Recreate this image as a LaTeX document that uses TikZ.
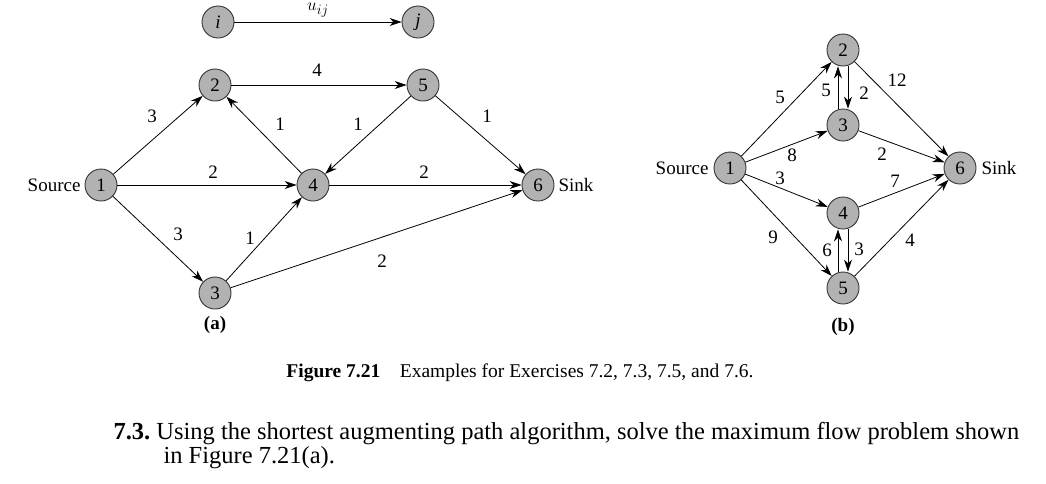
\documentclass[tikz,border=0pt]{standalone}
\usepackage{fontspec}
\setmainfont{Liberation Serif}
\usetikzlibrary{arrows.meta}
\begin{document}
\begin{tikzpicture}[x=1pt,y=-1pt,
  nd/.style={circle,draw=black!80,fill=black!30,line width=0.9pt,minimum size=32pt,inner sep=0pt,font=\fontsize{19}{19}\selectfont},
  ar/.style={-{Stealth[length=12pt,width=8pt]},line width=0.8pt},
  lb/.style={font=\fontsize{19}{19}\selectfont},
  tx/.style={font=\fontsize{19}{19}\selectfont}]
\useasboundingbox (0,0) rectangle (1046,483);
% (a)
\node[nd] (i) at (218,22) {\textit{i}};
\node[nd] (j) at (418,22) {\textit{j}};
\node[nd] (a2) at (215,85) {2};
\node[nd] (a5) at (423,85) {5};
\node[nd] (a1) at (101,185) {1};
\node[nd] (a4) at (313,185) {4};
\node[nd] (a6) at (538,185) {6};
\node[nd] (a3) at (215,293) {3};
\node[tx,anchor=east] (src) at (84,185) {Source};
\node[tx,anchor=west] (snk) at (555,185) {Sink};
\draw[ar] (i) -- (j) node[lb,midway,above=1pt] {$u_{ij}$};
\draw[ar] (a1) -- (a2);
\draw[ar] (a2) -- (a5);
\draw[ar] (a4) -- (a2);
\draw[ar] (a5) -- (a4);
\draw[ar] (a5) -- (a6);
\draw[ar] (a1) -- (a4);
\draw[ar] (a4) -- (a6);
\draw[ar] (a1) -- (a3);
\draw[ar] (a3) -- (a4);
\draw[ar] (a3) -- (a6);
\node[lb] (l1) at (152,116) {3};
\node[lb] (l2) at (317,70) {4};
\node[lb] (l3) at (280,124) {1};
\node[lb] (l4) at (358,124) {1};
\node[lb] (l5) at (487,116) {1};
\node[lb] (l6) at (213,172) {2};
\node[lb] (l7) at (424,172) {2};
\node[lb] (l8) at (178,234) {3};
\node[lb] (l9) at (250,238) {1};
\node[lb] (l10) at (382,261) {2};
\node[tx] (capa) at (215,325) {\textbf{(a)}};
% (b)
\node[nd] (b1) at (730,168) {1};
\node[nd] (b2) at (843,50) {2};
\node[nd] (b3) at (843,125) {3};
\node[nd] (b4) at (843,213) {4};
\node[nd] (b5) at (843,288) {5};
\node[nd] (b6) at (960,168) {6};
\node[tx,anchor=east] (srcb) at (712,168) {Source};
\node[tx,anchor=west] (snkb) at (978,168) {Sink};
\draw[ar] (b1) -- (b2);
\draw[ar] (b1) -- (b3);
\draw[ar] (b1) -- (b4);
\draw[ar] (b1) -- (b5);
\draw[ar] ([xshift=-5pt]b3.north) -- ([xshift=-5pt]b2.south);
\draw[ar] ([xshift=5pt]b2.south) -- ([xshift=5pt]b3.north);
\draw[ar] ([xshift=-5pt]b5.north) -- ([xshift=-5pt]b4.south);
\draw[ar] ([xshift=5pt]b4.south) -- ([xshift=5pt]b5.north);
\draw[ar] (b2) -- (b6);
\draw[ar] (b3) -- (b6);
\draw[ar] (b4) -- (b6);
\draw[ar] (b5) -- (b6);
\node[lb] (m1) at (780,97) {5};
\node[lb] (m2) at (826,90) {5};
\node[lb] (m3) at (864,93) {2};
\node[lb] (m4) at (897,80) {12};
\node[lb] (m5) at (792,155) {8};
\node[lb] (m6) at (882,154) {2};
\node[lb] (m7) at (780,178) {3};
\node[lb] (m8) at (895,181) {7};
\node[lb] (m9) at (773,237) {9};
\node[lb] (m10) at (827,250) {6};
\node[lb] (m11) at (859,249) {3};
\node[lb] (m12) at (910,240) {4};
\node[tx] (capb) at (843,327) {\textbf{(b)}};
% caption and text
\node[font=\fontsize{19.5}{19.5}\selectfont] (cap) at (520,373) {\textbf{Figure 7.21}\quad Examples for Exercises 7.2, 7.3, 7.5, and 7.6.};
\node[anchor=west,font=\fontsize{24.5}{24.5}\selectfont] (t1) at (110,434) {\textbf{7.3.}\ Using the shortest augmenting path algorithm, solve the maximum flow problem shown};
\node[anchor=west,font=\fontsize{24.5}{24.5}\selectfont] (t2) at (160,458) {in Figure 7.21(a).};
\end{tikzpicture}
\end{document}
